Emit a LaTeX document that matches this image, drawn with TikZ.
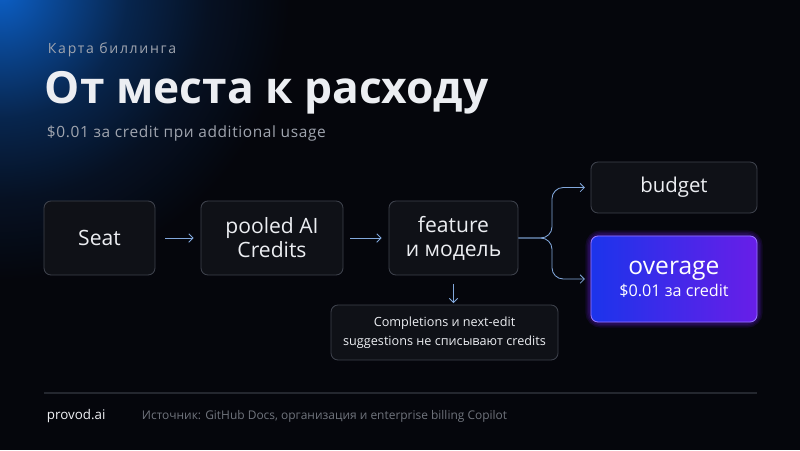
\documentclass[tikz,border=0pt]{standalone}
\usepackage{fontspec}
\setmainfont{Open Sans}
\newfontfamily\capfont[LetterSpace=12]{Open Sans}
\newfontfamily\subfont[LetterSpace=4]{Open Sans}
\usetikzlibrary{arrows.meta}
\definecolor{bgdark}{RGB}{5,6,12}
\definecolor{glowblue}{RGB}{12,96,200}
\definecolor{boxfill}{RGB}{15,17,23}
\definecolor{boxline}{RGB}{62,66,76}
\definecolor{txtmain}{RGB}{236,238,242}
\definecolor{txtgray}{RGB}{160,165,175}
\definecolor{txtdim}{RGB}{112,116,125}
\definecolor{arrblue}{RGB}{130,168,220}
\definecolor{ovleft}{RGB}{28,52,235}
\definecolor{ovright}{RGB}{104,30,232}
\definecolor{ovline}{RGB}{150,120,255}
\pgfdeclareradialshading{cornerglow}{\pgfpoint{0bp}{0bp}}{%
  color(0bp)=(glowblue); color(5bp)=(glowblue!70!bgdark);
  color(11bp)=(glowblue!35!bgdark); color(18bp)=(glowblue!12!bgdark);
  color(25bp)=(bgdark); color(50bp)=(bgdark)}
\tikzset{
  stepbox/.style={draw=boxline,fill=boxfill,rounded corners=5pt,line width=0.6pt,
    text=txtmain,align=center,font=\fontsize{15}{17}\selectfont},
  notebox/.style={draw=boxline,fill=boxfill,rounded corners=5pt,line width=0.6pt,
    text=txtmain,align=center,font=\fontsize{9}{13.5}\selectfont},
  hotbox/.style={draw=ovline,left color=ovleft,right color=ovright,rounded corners=5pt,
    line width=0.6pt,text=white,align=center},
  flow/.style={-{Straight Barb[length=3pt,width=6pt]},draw=arrblue,line width=0.6pt},
  glowring/.style={draw=ovright,rounded corners=7pt,opacity=0.12},
}

\begin{document}
\begin{tikzpicture}[x=0.025cm,y=-0.025cm]
\useasboundingbox (0,0) rectangle (800,450);
\fill[bgdark] (0,0) rectangle (800,450);
\begin{scope}
\clip (0,0) rectangle (800,450);
\shade[shading=cornerglow] (0,-10) circle (290);
\end{scope}
% heading
\node[anchor=west,text=txtgray,font=\capfont\fontsize{10}{12}\selectfont] (kicker) at (43,50) {Карта биллинга};
\node[anchor=west,text=txtmain,font=\fontsize{31.5}{36}\selectfont\bfseries] (title) at (40,93) {От места к расходу};
\node[anchor=west,text=txtgray,font=\subfont\fontsize{11}{13}\selectfont] (sub) at (42,133) {\$0.01 за credit при additional usage};
% steps
\node[stepbox,minimum width=2.775cm,minimum height=1.85cm] (seat) at (99.5,238) {Seat};
\node[stepbox,minimum width=3.55cm,minimum height=1.85cm] (pool) at (272,238) {pooled AI\\Credits};
\node[stepbox,minimum width=3.225cm,minimum height=1.85cm] (feat) at (453.5,238) {feature\\и модель};
\node[stepbox,minimum width=4.15cm,minimum height=1.275cm,font=\fontsize{14.5}{16}\selectfont] (budget) at (674,187.5) {budget};
\foreach \g in {8,6,4,2}
  \draw[glowring,line width=\g pt] (591,236) rectangle (757,322);
\node[hotbox,minimum width=4.15cm,minimum height=2.15cm] (over) at (674,279)
  {{\fontsize{17.5}{20}\selectfont overage}\\[2pt]{\fontsize{11.5}{13}\selectfont \$0.01 за credit}};
\node[notebox,minimum width=5.675cm,minimum height=1.375cm] (note) at (444.5,332.5)
  {Completions и next-edit\\suggestions не списывают credits};
% connectors
\draw[flow,shorten <=7pt,shorten >=5pt] (seat) -- (pool);
\draw[flow,shorten <=5pt,shorten >=5pt] (pool) -- (feat);
\draw[flow,rounded corners=8pt,shorten >=4pt] (feat.east) -- (552,238) |- (budget.west);
\draw[flow,rounded corners=8pt,shorten >=4pt] (feat.east) -- (552,238) |- (over.west);
\draw[flow,shorten <=6pt,shorten >=1pt] (feat.south) -- (feat.south |- note.north);
% footer
\coordinate (ruleL) at (44,393);
\coordinate (ruleR) at (757,393);
\draw[draw=boxline!55!bgdark,line width=0.8pt] (ruleL) -- (ruleR);
\node[anchor=west,text=txtmain!85,font=\fontsize{9.5}{11}\selectfont] (brand) at (42,416) {provod.ai};
\node[anchor=west,text=txtdim,font=\fontsize{8.5}{10}\selectfont] (source) at (137,416) {Источник: GitHub Docs, организация и enterprise billing Copilot};
\end{tikzpicture}
\end{document}
